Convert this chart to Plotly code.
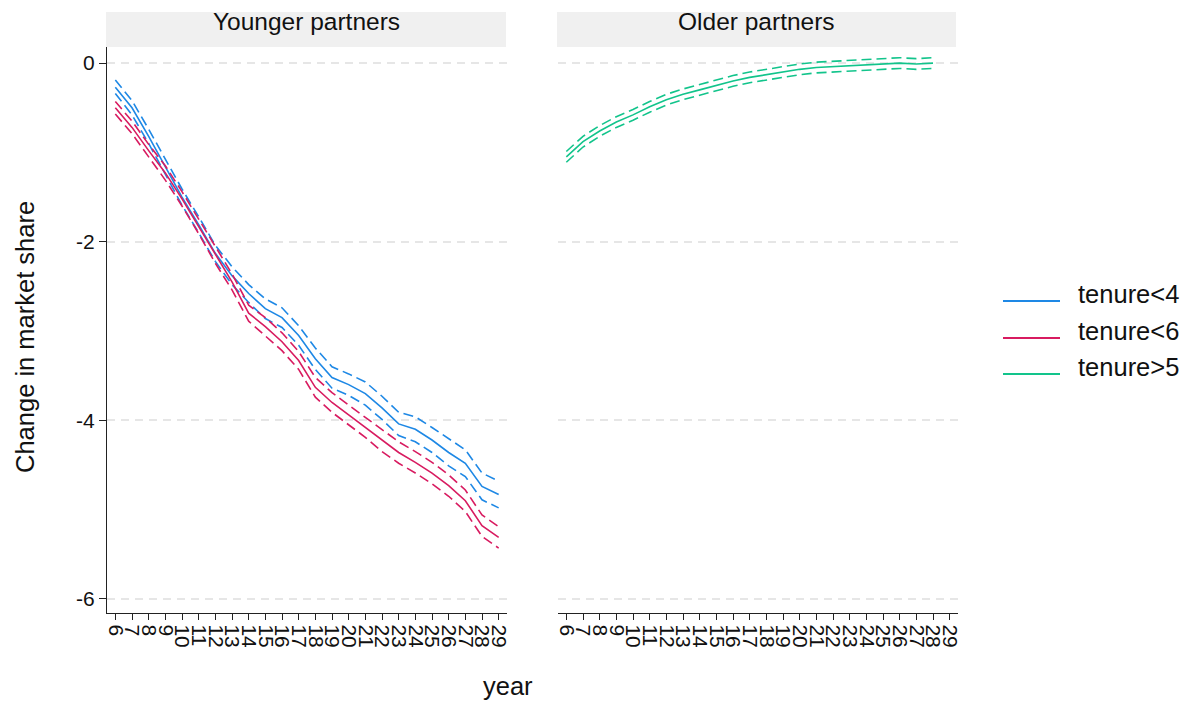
import plotly.graph_objects as go

years_young = list(range(6, 30))
years_old = list(range(6, 29))

# tenure<4 (younger partners)
blue_mid = [-0.27, -0.50, -0.82, -1.16, -1.50, -1.81, -2.13, -2.38, -2.58, -2.75, -2.85, -3.05,
            -3.31, -3.52, -3.60, -3.70, -3.86, -4.04, -4.10, -4.22, -4.36, -4.48, -4.74, -4.83]
blue_lo = [-0.34, -0.58, -0.90, -1.24, -1.59, -1.90, -2.22, -2.48, -2.68, -2.86, -2.96, -3.16,
           -3.43, -3.64, -3.72, -3.83, -3.99, -4.17, -4.24, -4.36, -4.51, -4.63, -4.89, -4.98]
blue_hi = [-0.19, -0.42, -0.74, -1.08, -1.41, -1.72, -2.04, -2.28, -2.48, -2.64, -2.74, -2.94,
           -3.19, -3.40, -3.48, -3.57, -3.73, -3.91, -3.96, -4.08, -4.21, -4.33, -4.59, -4.68]

# tenure<6 (younger partners)
red_mid = [-0.50, -0.72, -0.98, -1.23, -1.52, -1.83, -2.15, -2.45, -2.80, -2.95, -3.12, -3.33,
           -3.63, -3.80, -3.94, -4.08, -4.23, -4.36, -4.47, -4.59, -4.73, -4.90, -5.18, -5.31]
red_lo = [-0.57, -0.79, -1.05, -1.31, -1.60, -1.91, -2.24, -2.54, -2.89, -3.05, -3.22, -3.43,
          -3.74, -3.91, -4.05, -4.19, -4.35, -4.48, -4.59, -4.71, -4.85, -5.02, -5.30, -5.43]
red_hi = [-0.43, -0.65, -0.91, -1.15, -1.44, -1.75, -2.06, -2.36, -2.71, -2.85, -3.02, -3.23,
          -3.52, -3.69, -3.83, -3.97, -4.11, -4.24, -4.35, -4.47, -4.61, -4.78, -5.06, -5.19]

# tenure>5 (older partners)
green_mid = [-1.05, -0.88, -0.76, -0.66, -0.58, -0.49, -0.41, -0.35, -0.30, -0.25, -0.20, -0.16,
             -0.13, -0.10, -0.07, -0.05, -0.04, -0.03, -0.02, -0.01, 0.00, -0.01, 0.00]
green_lo = [-1.11, -0.94, -0.82, -0.72, -0.64, -0.55, -0.47, -0.41, -0.36, -0.31, -0.26, -0.22,
            -0.19, -0.16, -0.13, -0.11, -0.10, -0.09, -0.08, -0.07, -0.06, -0.07, -0.06]
green_hi = [-0.99, -0.82, -0.70, -0.60, -0.52, -0.43, -0.35, -0.29, -0.24, -0.19, -0.14, -0.10,
            -0.07, -0.04, -0.01, 0.01, 0.02, 0.03, 0.04, 0.05, 0.06, 0.05, 0.06]

y_ticks = [0, -2, -4, -6]
panel_titles = ["Younger partners", "Older partners"]
legend_labels = ["tenure<4", "tenure<6", "tenure>5"]

BLUE = "#1E88E5"
RED = "#D81B60"
GREEN = "#12C48B"
FONT = "Arial, Liberation Sans, sans-serif"

# page has an 8px body margin: figure is placed at (8, 8) in the 1190x702 window
OFF = 8
W, H = 1190 - OFF, 702 - OFF
PLOT_L, PLOT_R, PLOT_T, PLOT_B = 107, 958, 47, 613   # window pixel coords of plot area
L, R, T, B = PLOT_L - OFF, 1190 - PLOT_R, PLOT_T - OFF, 702 - PLOT_B
PW = W - L - R
PH = H - T - B


def px_x(px):
    return (px - PLOT_L) / PW


def px_y(py):
    return (PLOT_B - py) / PH


fig = go.Figure()

series = [
    (years_young, blue_lo, blue_mid, blue_hi, BLUE, "x", "y"),
    (years_young, red_lo, red_mid, red_hi, RED, "x", "y"),
    (years_old, green_lo, green_mid, green_hi, GREEN, "x2", "y2"),
]
for xs, lo, mid, hi, col, xa, ya in series:
    for vals, dash in ((lo, "10px,5px"), (hi, "10px,5px"), (mid, "solid")):
        fig.add_trace(go.Scatter(x=xs, y=vals, mode="lines", xaxis=xa, yaxis=ya,
                                 line=dict(color=col, width=1.6, dash=dash),
                                 showlegend=False, hoverinfo="skip"))

split = 400 / PW
gap_start = 451 / PW
xcommon = dict(range=[5.5, 29.5], tickmode="array", tickvals=years_young,
               ticktext=[str(v) for v in years_young], tickangle=90,
               showline=True, linecolor="#222", linewidth=1.4, ticks="outside",
               ticklen=6, tickcolor="#222", tickwidth=1.2, showgrid=False,
               zeroline=False, tickfont=dict(family=FONT, size=21, color="#111"))
ycommon = dict(range=[-6.157, 0.18], tickmode="array", tickvals=y_ticks,
               ticktext=[str(v) for v in y_ticks], showgrid=True,
               gridcolor="#E6E6E6", gridwidth=1.5, griddash="8px,6px", zeroline=False)

fig.update_layout(
    width=W, height=H,
    margin=dict(l=L, r=R, t=T, b=B),
    paper_bgcolor="white", plot_bgcolor="white",
    showlegend=False,
    xaxis=dict(domain=[0, split], anchor="y", **xcommon),
    xaxis2=dict(domain=[gap_start, 1], anchor="y2", **xcommon),
    yaxis=dict(domain=[0, 1], anchor="x", showline=True, linecolor="#222", linewidth=1.4,
               ticks="outside", ticklen=7, tickcolor="#222", tickwidth=1.2,
               tickfont=dict(family=FONT, size=21, color="#111"), **ycommon),
    yaxis2=dict(domain=[0, 1], anchor="x2", showline=False, showticklabels=False, ticks="",
                **ycommon),
)

shapes = []
annotations = []
# strips
for (x0, x1), title in zip([(106, 506), (557, 956)], panel_titles):
    shapes.append(dict(type="rect", xref="paper", yref="paper", x0=px_x(x0), x1=px_x(x1),
                       y0=px_y(47), y1=px_y(12), fillcolor="#F0F0F0", line=dict(width=0),
                       layer="below"))
    annotations.append(dict(text=title, xref="paper", yref="paper", x=px_x((x0 + x1) / 2),
                            y=px_y(22), showarrow=False, xanchor="center", yanchor="middle",
                            font=dict(family=FONT, size=24.5, color="#111")))

# axis titles
annotations.append(dict(text="year", xref="paper", yref="paper", x=px_x(508), y=px_y(686),
                        showarrow=False, xanchor="center", yanchor="middle",
                        font=dict(family=FONT, size=25.5, color="#111")))
annotations.append(dict(text="Change in market share", xref="paper", yref="paper",
                        x=px_x(25), y=px_y(337), showarrow=False, textangle=-90,
                        xanchor="center", yanchor="middle",
                        font=dict(family=FONT, size=25.5, color="#111")))

# legend
for col, label, ly in zip([BLUE, RED, GREEN], legend_labels, [301, 338, 374]):
    shapes.append(dict(type="line", xref="paper", yref="paper", x0=px_x(1003), x1=px_x(1060),
                       y0=px_y(ly), y1=px_y(ly), line=dict(color=col, width=2)))
    annotations.append(dict(text=label, xref="paper", yref="paper", x=px_x(1076),
                            y=px_y(ly - 7), showarrow=False, xanchor="left", yanchor="middle",
                            font=dict(family=FONT, size=25.5, color="#111")))

fig.update_layout(shapes=shapes, annotations=annotations)
fig.write_html("out.html")
